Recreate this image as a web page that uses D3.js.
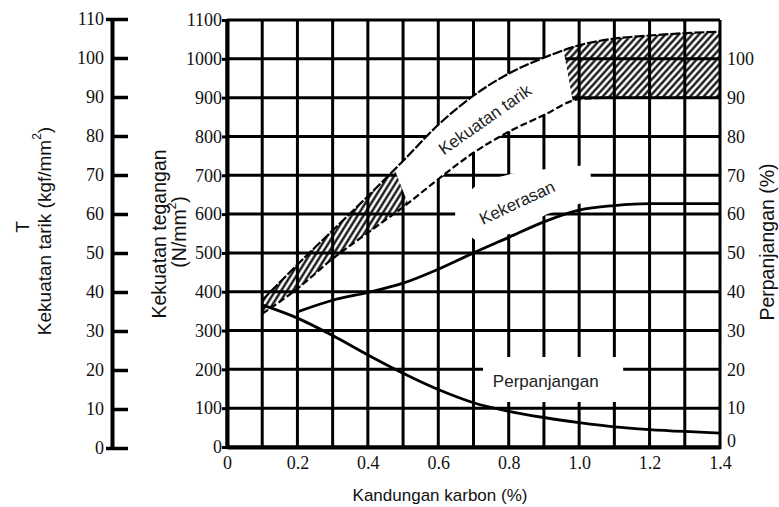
<!DOCTYPE html>
<html>
<head>
<meta charset="utf-8">
<script src="https://cdn.jsdelivr.net/npm/d3@7"></script>
<style>
  body { margin: 0; background: #fff; }
</style>
</head>
<body>
<script>
// values
var carbon = [0.1, 0.2, 0.3, 0.4, 0.5, 0.6, 0.7, 0.8, 0.9, 1.0, 1.1, 1.2, 1.3, 1.4];
var tarikUpper = [378, 470, 558, 646, 737, 830, 905, 962, 1003, 1035, 1052, 1060, 1066, 1070];
var tarikLower = [343, 408, 485, 552, 618, 690, 758, 812, 855, 896, 900, 900, 900, 900];
var kerasCarbon = [0.2, 0.3, 0.4, 0.5, 0.6, 0.7, 0.8, 0.9, 1.0, 1.1, 1.2, 1.3, 1.4];
var kekerasan = [348, 378, 398, 422, 458, 500, 540, 580, 610, 622, 627, 627, 627];
var perpanjangan = [36.6, 33.2, 28.7, 23.7, 19.0, 14.8, 11.4, 9.2, 7.6, 6.3, 5.2, 4.5, 4.0, 3.6];

var xTicks = [0, 0.2, 0.4, 0.6, 0.8, 1.0, 1.2, 1.4];
var xGrid = d3.range(0, 15).map(function(i) { return i / 10; });
var nTicks = d3.range(0, 1101, 100);
var tTicks = d3.range(0, 111, 10);
var pTicks = d3.range(0, 101, 10);

var W = 779, H = 507;
var svg = d3.select('body')
  .append('svg')
  .attr('width', W)
  .attr('height', H);

var x = d3.scaleLinear().domain([0, 1.4]).range([227, 720]);
var yN = d3.scaleLinear().domain([0, 1100]).range([447, 20]);
var yT = d3.scaleLinear().domain([0, 110]).range([448, 19]);
var yP = d3.scaleLinear().domain([0, 110]).range([447, 20]);

var sans = "'Liberation Sans', Arial, sans-serif";
var serif = "'Liberation Serif', 'Times New Roman', 'DejaVu Serif', serif";

// hatch patterns for the tensile band (steeper on the left part)
var defs = svg.append('defs');
function hatch(id, angle) {
  defs.append('pattern')
    .attr('id', id)
    .attr('patternUnits', 'userSpaceOnUse')
    .attr('width', 5)
    .attr('height', 6)
    .attr('patternTransform', 'rotate(' + angle + ')')
    .append('line')
    .attr('x1', 2.5).attr('y1', 0)
    .attr('x2', 2.5).attr('y2', 6)
    .attr('stroke', '#000')
    .attr('stroke-width', 2.2);
}
hatch('hatchL', 32);
hatch('hatchR', 42);

defs.append('clipPath').attr('id', 'leftpart')
  .append('rect').attr('x', 0).attr('y', 0).attr('width', x(0.55)).attr('height', H);
defs.append('clipPath').attr('id', 'rightpart')
  .append('rect').attr('x', x(0.55)).attr('y', 0).attr('width', W).attr('height', H);

// grid
svg.selectAll('line.vgrid')
  .data(xGrid)
  .enter().append('line')
  .attr('class', 'vgrid')
  .attr('x1', function(d) { return x(d); })
  .attr('x2', function(d) { return x(d); })
  .attr('y1', yN(1100))
  .attr('y2', yN(0) + 2)
  .attr('stroke', '#000')
  .attr('stroke-width', 3);

svg.selectAll('line.hgrid')
  .data(nTicks)
  .enter().append('line')
  .attr('class', 'hgrid')
  .attr('x1', x(0))
  .attr('x2', x(1.4))
  .attr('y1', function(d) { return yN(d); })
  .attr('y2', function(d) { return yN(d); })
  .attr('stroke', '#000')
  .attr('stroke-width', 3);

// band
var band = d3.area()
  .x(function(d, i) { return x(carbon[i]); })
  .y0(function(d, i) { return yN(tarikLower[i]); })
  .y1(function(d, i) { return yN(tarikUpper[i]); })
  .curve(d3.curveMonotoneX);

svg.append('path')
  .datum(carbon)
  .attr('d', band)
  .attr('fill', 'url(#hatchL)')
  .attr('clip-path', 'url(#leftpart)');
svg.append('path')
  .datum(carbon)
  .attr('d', band)
  .attr('fill', 'url(#hatchR)')
  .attr('clip-path', 'url(#rightpart)');

// white boxes behind the labels (data units)
var bandGap = [[0.395, 900], [0.57, 500], [1.01, 750], [0.93, 1150]];
var kerasBox = [[0.648, 624], [0.719, 683], [0.832, 709], [1.031, 727], [1.037, 637],
                [0.909, 600], [0.804, 549], [0.704, 534], [0.648, 572]];
var panjangBox = [[0.727, 116], [1.125, 116], [1.125, 232], [0.727, 232]];

function poly(pts) {
  return 'M' + pts.map(function(p) { return x(p[0]) + ',' + yN(p[1]); }).join('L') + 'Z';
}

defs.append('clipPath').attr('id', 'gapclip')
  .append('path').attr('d', poly(bandGap));

svg.append('path')
  .datum(carbon)
  .attr('d', band)
  .attr('fill', '#fff')
  .attr('clip-path', 'url(#gapclip)');

svg.append('path').attr('d', poly(kerasBox)).attr('fill', '#fff');
svg.append('path').attr('d', poly(panjangBox)).attr('fill', '#fff');

// band edges
var edge = function(arr) {
  return d3.line()
    .x(function(d, i) { return x(carbon[i]); })
    .y(function(d, i) { return yN(arr[i]); })
    .curve(d3.curveMonotoneX);
};
svg.append('path')
  .datum(carbon)
  .attr('d', edge(tarikUpper))
  .attr('fill', 'none')
  .attr('stroke', '#000')
  .attr('stroke-width', 2.2)
  .attr('stroke-dasharray', '10,2');
svg.append('path')
  .datum(carbon)
  .attr('d', edge(tarikLower))
  .attr('fill', 'none')
  .attr('stroke', '#000')
  .attr('stroke-width', 2.2)
  .attr('stroke-dasharray', '7,3');
svg.append('line')
  .attr('x1', x(carbon[0])).attr('x2', x(carbon[0]))
  .attr('y1', yN(tarikLower[0])).attr('y2', yN(tarikUpper[0]))
  .attr('stroke', '#000').attr('stroke-width', 2);

// hardness
svg.append('path')
  .datum(kekerasan)
  .attr('d', d3.line()
    .x(function(d, i) { return x(kerasCarbon[i]); })
    .y(function(d) { return yN(d); })
    .curve(d3.curveMonotoneX))
  .attr('fill', 'none')
  .attr('stroke', '#000')
  .attr('stroke-width', 2.8);

// elongation (right axis, %)
svg.append('path')
  .datum(perpanjangan)
  .attr('d', d3.line()
    .x(function(d, i) { return x(carbon[i]); })
    .y(function(d) { return yP(d); })
    .curve(d3.curveMonotoneX))
  .attr('fill', 'none')
  .attr('stroke', '#000')
  .attr('stroke-width', 2.8);

// curve labels
var labels = [
  { text: 'Kekuatan tarik', c: 0.733, n: 843, angle: -35, anchor: 'middle' },
  { text: 'Kekerasan', c: 0.824, n: 629, angle: -25, anchor: 'middle' },
  { text: 'Perpanjangan', c: 0.755, n: 170, angle: 0, anchor: 'start' }
];
svg.selectAll('text.lbl')
  .data(labels)
  .enter().append('text')
  .attr('class', 'lbl')
  .attr('transform', function(d) {
    return 'translate(' + x(d.c) + ',' + yN(d.n) + ') rotate(' + d.angle + ')';
  })
  .attr('text-anchor', function(d) { return d.anchor; })
  .attr('dominant-baseline', 'central')
  .style('font-family', sans)
  .attr('font-size', 17)
  .attr('fill', '#222')
  .text(function(d) { return d.text; });

// left axis (kgf/mm2)
var tAxis = svg.append('g')
  .attr('transform', 'translate(112,0)')
  .call(d3.axisLeft(yT).tickValues(tTicks).tickSize(-16).tickSizeOuter(0).tickPadding(8));
tAxis.select('.domain').attr('stroke-width', 4);
tAxis.selectAll('.tick line').attr('stroke-width', 3.5);
tAxis.selectAll('.tick').filter(function(d) { return d === 0 || d === 110; })
  .select('line').attr('x1', -6);

// middle axis (N/mm2)
var nAxis = svg.append('g')
  .attr('transform', 'translate(' + x(0) + ',0)')
  .call(d3.axisLeft(yN).tickValues(nTicks).tickSize(5).tickSizeOuter(0).tickPadding(0)
    .tickFormat(d3.format('d')));
nAxis.select('.domain').attr('stroke-width', 4);
nAxis.selectAll('.tick line').attr('stroke-width', 3);

// right axis (%)
var pAxis = svg.append('g')
  .attr('transform', 'translate(' + x(1.4) + ',0)')
  .call(d3.axisRight(yP).tickValues(pTicks).tickSize(0).tickPadding(7));
pAxis.select('.domain').remove();
pAxis.selectAll('.tick').filter(function(d) { return d === 0; })
  .select('text').attr('dy', '-0.05em');

// bottom axis
var xAxis = svg.append('g')
  .attr('transform', 'translate(0,' + yN(0) + ')')
  .call(d3.axisBottom(x).tickValues(xTicks).tickSize(0).tickPadding(9)
    .tickFormat(function(d) { return d === 0 ? '0' : d.toFixed(1); }));
xAxis.select('.domain').attr('stroke-width', 4);

[tAxis, nAxis, pAxis, xAxis].forEach(function(g) {
  g.attr('font-family', null).attr('font-size', null);
  g.selectAll('.tick text')
    .style('font-family', serif)
    .style('font-size', '18px')
    .attr('fill', '#111');
});

// axis titles
function vtitle(cx, cy, size, parts) {
  var t = svg.append('text')
    .attr('transform', 'translate(' + cx + ',' + cy + ') rotate(-90)')
    .attr('text-anchor', 'middle')
    .attr('dominant-baseline', 'central')
    .style('font-family', sans)
    .attr('font-size', size)
    .attr('fill', '#111');
  parts.forEach(function(p) {
    var s = t.append('tspan').text(p[0]);
    if (p[1]) s.attr('baseline-shift', 'super').attr('font-size', 12);
  });
}
vtitle(22, 227, 19, [['T']]);
vtitle(44, 231, 19, [['Kekuatan tarik (kgf/mm'], ['2', true], [')']]);
vtitle(159, 234, 19.5, [['Kekuatan tegangan']]);
vtitle(179, 232, 19.5, [['(N/mm'], ['2', true], [')']]);
vtitle(767, 242, 19.5, [['Perpanjangan (%)']]);

svg.append('text')
  .attr('x', 440)
  .attr('y', 495)
  .attr('text-anchor', 'middle')
  .attr('dominant-baseline', 'central')
  .style('font-family', sans)
  .attr('font-size', 17)
  .attr('fill', '#111')
  .text('Kandungan karbon (%)');
</script>
</body>
</html>
